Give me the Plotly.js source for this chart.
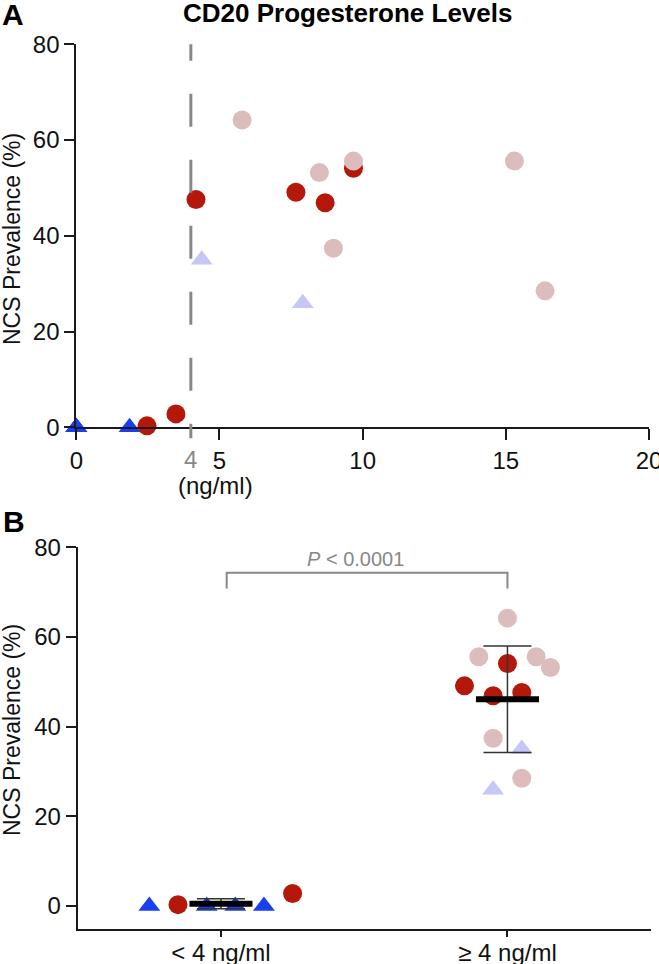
<!DOCTYPE html>
<html>
<head>
<meta charset="utf-8">
<script src="https://cdn.plot.ly/plotly-3.0.1.min.js"></script>
<style>
html, body { margin: 0; padding: 0; background: #fff; }
#chart { width: 659px; height: 964px; }
</style>
</head>
<body>
<div id="chart"></div>
<script>
// panel A: progesterone (ng/ml) vs NCS prevalence (%)
var redX = [2.47, 3.48, 4.18, 7.67, 8.69, 9.68];
var redY = [0.3, 2.8, 47.6, 49.1, 46.9, 54.1];
var pinkX = [5.79, 8.49, 9.68, 15.30, 8.98, 16.37];
var pinkY = [64.2, 53.2, 55.6, 55.6, 37.4, 28.5];
var blueX = [0, 0, 0, 1.86];
var blueY = [0, 0, 0, 0];
var lavX = [4.38, 7.91];
var lavY = [35.0, 25.9];

// panel B: sideways spread of each dot inside its column
var redJit = [-0.15, 0.25, 0.05, -0.15, -0.05, 0];
var pinkJit = [0, 0.15, -0.10, 0.10, -0.05, 0.05];
var blueJit = [-0.25, -0.05, 0.05, 0.15];
var lavJit = [0.05, -0.05];

var groups = ['&lt; 4 ng/ml', '≥ 4 ng/ml'];
var cutoff = 4;
var xTicks = [0, 5, 10, 15, 20];
var yTicks = [0, 20, 40, 60, 80];

var RED = '#b3180b', PINK = '#dcbcbc', BLUE = '#1a3ff2', LAV = '#c6c6f7';
var GREY = '#888888', INK = '#1a1a1a';
var FONT = 'Liberation Sans, Arial, sans-serif';

var W = 659, H = 964;
function px(x) { return x / W; }
function py(y) { return 1 - y / H; }

function col(xs, jit) {
  return xs.map(function (v, i) { return (v < cutoff ? 0 : 1) + jit[i]; });
}

// mean and SD per group for panel B
var series = [[redX, redY], [pinkX, pinkY], [blueX, blueY], [lavX, lavY]];
var byGroup = [[], []];
series.forEach(function (s) {
  s[0].forEach(function (v, i) { byGroup[v < cutoff ? 0 : 1].push(s[1][i]); });
});
var means = byGroup.map(function (g) {
  return g.reduce(function (a, b) { return a + b; }, 0) / g.length;
});
var sds = byGroup.map(function (g, k) {
  var ss = g.reduce(function (a, b) { return a + (b - means[k]) * (b - means[k]); }, 0);
  return Math.sqrt(ss / (g.length - 1));
});

function dots(x, y, color, symbol, xa, ya) {
  return {
    x: x, y: y, xaxis: xa, yaxis: ya, type: 'scatter', mode: 'markers',
    cliponaxis: false, showlegend: false, hoverinfo: 'skip',
    marker: { color: color, symbol: symbol, size: 19, line: { width: 0 } }
  };
}

var data = [
  dots(blueX, blueY, BLUE, 'triangle-up', 'x', 'y'),
  dots(lavX, lavY, LAV, 'triangle-up', 'x', 'y'),
  dots(redX, redY, RED, 'circle', 'x', 'y'),
  dots(pinkX, pinkY, PINK, 'circle', 'x', 'y'),

  dots(col(blueX, blueJit), blueY, BLUE, 'triangle-up', 'x2', 'y2'),
  dots(col(lavX, lavJit), lavY, LAV, 'triangle-up', 'x2', 'y2'),
  dots(col(redX, redJit), redY, RED, 'circle', 'x2', 'y2'),
  dots(col(pinkX, pinkJit), pinkY, PINK, 'circle', 'x2', 'y2'),
  {
    x: [0, 1], y: means, xaxis: 'x2', yaxis: 'y2', type: 'scatter', mode: 'markers',
    cliponaxis: false, showlegend: false, hoverinfo: 'skip',
    marker: { opacity: 0, size: 1 },
    error_y: { type: 'data', array: sds, visible: true, color: '#333', thickness: 1.5, width: 24 },
    error_x: { type: 'constant', value: 0.11, visible: true, color: '#000', thickness: 6, width: 0 }
  }
];

var tickFont = { family: FONT, size: 24, color: '#111' };
function axis(extra) {
  var a = {
    showgrid: false, zeroline: false, showline: true, linecolor: INK, linewidth: 2,
    ticks: 'outside', tickcolor: INK, tickwidth: 2, ticklen: 10, tickfont: tickFont,
    ticklabeloverflow: 'allow', fixedrange: true
  };
  for (var k in extra) a[k] = extra[k];
  return a;
}

function note(text, x, y, size, color, extra) {
  var a = { text: text, xref: 'paper', yref: 'paper', x: x, y: y, xanchor: 'center', yanchor: 'middle',
            showarrow: false, font: { size: size, family: FONT, color: color } };
  for (var k in extra) a[k] = extra[k];
  return a;
}

var layout = {
  width: W, height: H,
  margin: { l: 0, r: 0, t: 0, b: 0 },
  paper_bgcolor: '#fff', plot_bgcolor: 'rgba(0,0,0,0)',
  font: { family: FONT, color: '#111' },
  xaxis: axis({ domain: [px(76.3), px(649)], range: [0, 20], tickvals: xTicks, ticklen: 11, anchor: 'y' }),
  yaxis: axis({ domain: [py(427.3), py(44.3)], range: [0, 80], tickvals: yTicks, anchor: 'x' }),
  xaxis2: axis({ domain: [px(77.7), px(650.7)], range: [-0.5, 1.5], tickvals: [0, 1], ticktext: groups,
                 ticklen: 6, ticklabelstandoff: -5, anchor: 'y2' }),
  yaxis2: axis({ domain: [py(929), py(547.3)], range: [-5.13, 80], tickvals: yTicks, anchor: 'x2' }),
  shapes: [
    { type: 'line', xref: 'x', yref: 'paper', x0: cutoff, x1: cutoff, y0: py(44.3), y1: py(438.3),
      line: { color: GREY, width: 3, dash: '16.5px,33px,16.5px,0px' } },
    { type: 'path', xref: 'x2', yref: 'y2', path: 'M0.02,70.8 L0.02,74.3 L1,74.3 L1,70.8',
      line: { color: GREY, width: 2 } }
  ],
  annotations: [
    note('<b>CD20 Progesterone Levels</b>', px(347), py(13), 26, '#000'),
    note('<b>A</b>', px(0), py(15), 30, '#000', { xanchor: 'left' }),
    note('<b>B</b>', px(1), py(521), 30, '#000', { xanchor: 'left' }),
    note('NCS Prevalence (%)', px(12), py(239), 23, '#111', { textangle: -90 }),
    note('NCS Prevalence (%)', px(12), py(730), 23, '#111', { textangle: -90 }),
    note('(ng/ml)', px(215), py(485), 24, '#111'),
    note(String(cutoff), cutoff, py(459), 24, GREY, { xref: 'x' }),
    note('<i>P</i> &lt; 0.0001', px(356), py(559), 20, GREY)
  ]
};

Plotly.newPlot('chart', data, layout, { displayModeBar: false, staticPlot: true });
</script>
</body>
</html>
